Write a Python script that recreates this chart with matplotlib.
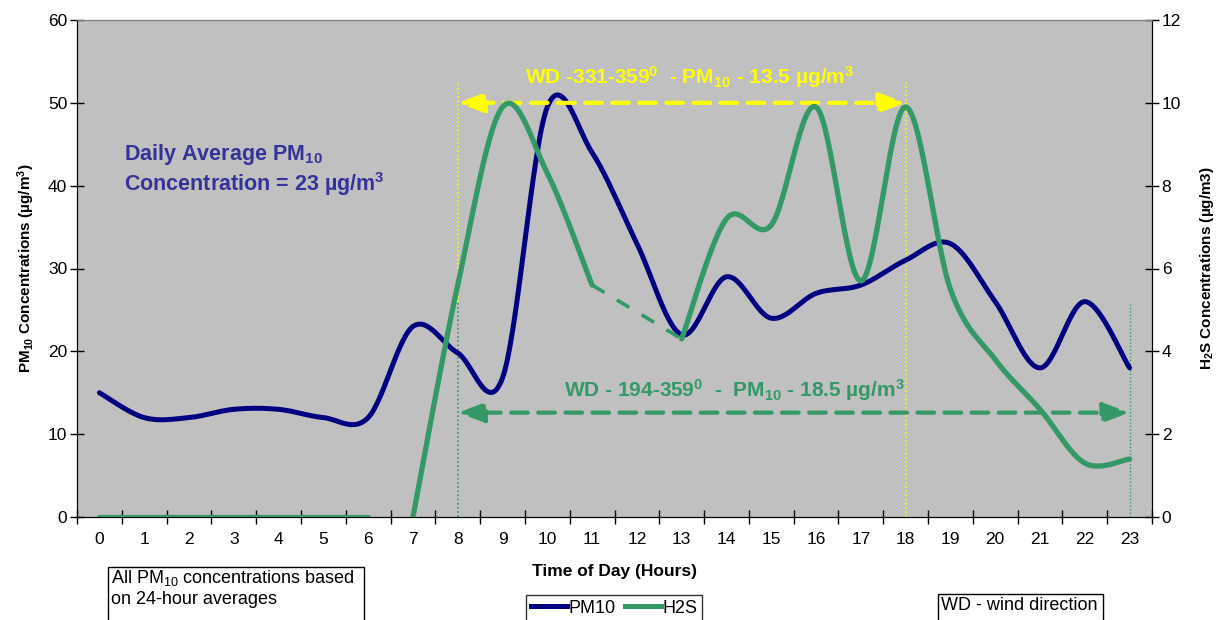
import numpy as np
import matplotlib
matplotlib.use('Agg')
import matplotlib.pyplot as plt
from matplotlib.lines import Line2D
from matplotlib.patches import Rectangle

plt.rcParams['font.family'] = ['Liberation Sans', 'DejaVu Sans']
plt.rcParams['mathtext.fontset'] = 'custom'
plt.rcParams['mathtext.rm'] = 'Liberation Sans'
plt.rcParams['mathtext.bf'] = 'Liberation Sans:bold'
plt.rcParams['mathtext.it'] = 'Liberation Sans:italic'

hours = list(range(24))
pm10 = [15, 12, 12, 13, 13, 12, 12, 23, 19.8, 16.8, 49.5, 44, 33, 22, 29, 24,
        27, 28, 31, 33, 26, 18, 26, 18]
# H2S is drawn in pieces: no reading between 6 and 7, hour 12 missing
h2s_hours_a = [0, 1, 2, 3, 4, 5, 6]
h2s_a = [0, 0, 0, 0, 0, 0, 0]
h2s_hours_b = [7, 8, 9, 10, 11]
h2s_b = [0, 5.6, 9.9, 8.3, 5.6]
h2s_hours_gap = [11, 13]
h2s_gap = [5.6, 4.3]
h2s_hours_c = [13, 14, 15, 16, 17, 18, 19, 20, 21, 22, 23]
h2s_c = [4.3, 7.2, 7.05, 9.9, 5.7, 9.9, 5.5, 3.8, 2.6, 1.3, 1.4]

NAVY = '#000080'
GREEN = '#339966'
YELLOW = '#FFFF00'
TXTBLUE = '#333399'


def smooth(xs, ys, n=30):
    # Excel-style smoothed line (bezier with 1/6 tangents)
    p = np.column_stack([xs, ys]).astype(float)
    if len(p) < 3:
        return p[:, 0], p[:, 1]
    pts = np.vstack([p[0], p, p[-1]])
    out = []
    t = np.linspace(0, 1, n)[:, None]
    for i in range(1, len(pts) - 2):
        p0, p1, p2, p3 = pts[i - 1], pts[i], pts[i + 1], pts[i + 2]
        c1 = p1 + (p2 - p0) / 6
        c2 = p2 - (p3 - p1) / 6
        seg = ((1 - t) ** 3) * p1 + 3 * ((1 - t) ** 2) * t * c1 + 3 * (1 - t) * t ** 2 * c2 + t ** 3 * p2
        out.append(seg if i == 1 else seg[1:])
    out = np.vstack(out)
    return out[:, 0], out[:, 1]


fig = plt.figure(figsize=(12.17, 6.2), dpi=100)
ax = fig.add_axes([77 / 1217, 1 - 517 / 620, (1152 - 77) / 1217, (517 - 20) / 620])
ax.set_facecolor('#C0C0C0')
ax2 = ax.twinx()

x, y = smooth(hours, pm10)
ax.plot(x, y, color=NAVY, lw=3.6, solid_capstyle='round', zorder=3)

for hx, hy in [(h2s_hours_a, h2s_a), (h2s_hours_b, h2s_b), (h2s_hours_c, h2s_c)]:
    x, y = smooth(hx, hy)
    ax2.plot(x, y, color=GREEN, lw=3.8, solid_capstyle='round', zorder=3)
ax2.plot(h2s_hours_gap, h2s_gap, color=GREEN, lw=2.6, ls=(0, (4, 4)), zorder=3)

ax.set_xlim(-0.5, 23.5)
ax.set_ylim(0, 60)
ax2.set_ylim(0, 12)
ax.set_yticks(range(0, 61, 10))
ax2.set_yticks(range(0, 13, 2))
ax.set_xticks(np.arange(-0.5, 24, 1))
ax.set_xticklabels([])
ax.set_xticks(hours, minor=True)
ax.set_xticklabels([str(h) for h in hours], minor=True)
ax.tick_params(axis='x', which='major', direction='inout', length=10, width=1)
ax.tick_params(axis='x', which='minor', length=0, pad=11, labelsize=12.5)
ax.tick_params(axis='y', direction='inout', length=10, width=1, labelsize=12.5, pad=2)
ax2.tick_params(axis='y', direction='inout', length=10, width=1, labelsize=12.5, pad=2)

for a in (ax, ax2):
    a.spines['top'].set_color('#808080')
    a.spines['left'].set_color('black')
    a.spines['right'].set_color('black')
    a.spines['bottom'].set_color('black')

ax.set_xlabel('Time of Day (Hours)', fontsize=12.5, fontweight='bold', labelpad=12)
ax.set_ylabel(r'PM$_{\mathbf{10}}$ Concentrations (µg/m$^{\mathbf{3}}$)', fontsize=11,
              fontweight='bold', labelpad=8)
ax2.set_ylabel(r'H$_{\mathbf{2}}$S Concentrations (µg/m3)', fontsize=11,
               fontweight='bold', labelpad=12)

# wind direction arrows and guide lines
ax.vlines(8, 26, 52.5, colors=YELLOW, lw=1.2, ls=(0, (1, 1.5)), zorder=2)
ax.vlines(18, 0, 52.5, colors=YELLOW, lw=1.2, ls=(0, (1, 1.5)), zorder=2)
ax.vlines(8, 0, 26, colors=GREEN, lw=1.2, ls=(0, (1, 1.5)), zorder=2)
ax.vlines(23, 0, 25.8, colors=GREEN, lw=1.0, ls=(0, (1, 1.5)), zorder=2)

ax.annotate('', xy=(8, 50), xytext=(18, 50),
            arrowprops=dict(arrowstyle='<|-|>,head_length=1.6,head_width=0.6', color=YELLOW,
                            lw=3, ls=(0, (4, 2.5)), shrinkA=0, shrinkB=0), zorder=4)
ax.annotate('', xy=(8, 12.6), xytext=(23, 12.6),
            arrowprops=dict(arrowstyle='<|-|>,head_length=1.6,head_width=0.6', color=GREEN,
                            lw=3, ls=(0, (4, 2.5)), shrinkA=0, shrinkB=0), zorder=4)

ax.text(13.18, 53.1, r'WD -331-359$^{\mathbf{0}}$  - PM$_{\mathbf{10}}$ - 13.5 µg/m$^{\mathbf{3}}$',
        color=YELLOW, fontsize=15, fontweight='bold', ha='center', va='center', zorder=5)
ax.text(14.17, 15.3, r'WD - 194-359$^{\mathbf{0}}$  -  PM$_{\mathbf{10}}$ - 18.5 µg/m$^{\mathbf{3}}$',
        color=GREEN, fontsize=15, fontweight='bold', ha='center', va='center', zorder=5)
ax.text(0.55, 43.8, r'Daily Average PM$_{\mathbf{10}}$', color=TXTBLUE, fontsize=15.5,
        fontweight='bold', ha='left', va='center')
ax.text(0.55, 40.2, r'Concentration = 23 µg/m$^{\mathbf{3}}$', color=TXTBLUE, fontsize=15.5,
        fontweight='bold', ha='left', va='center')

# legend
handles = [Line2D([], [], color=NAVY, lw=3.6), Line2D([], [], color=GREEN, lw=3.6)]
fig.legend(handles, ['PM10', 'H2S'], loc='upper center', bbox_to_anchor=(614 / 1217, 1 - 595 / 620),
           ncol=2, frameon=True, fancybox=False, edgecolor='black', fontsize=13,
           borderaxespad=0, handlelength=2.0, handletextpad=0.1, columnspacing=0.5,
           borderpad=0.25)

# note boxes
fig.patches.append(Rectangle((108 / 1217, -0.05), (364 - 108) / 1217, 0.05 + 1 - 567 / 620,
                             transform=fig.transFigure, fill=False, edgecolor='black', lw=1))
fig.text(111 / 1217, 1 - 578 / 620, r'All PM$_{10}$ concentrations based', fontsize=13, va='center')
fig.text(111 / 1217, 1 - 599 / 620, 'on 24-hour averages', fontsize=13, va='center')
fig.patches.append(Rectangle((938 / 1217, -0.05), (1103 - 938) / 1217, 0.05 + 1 - 594 / 620,
                             transform=fig.transFigure, fill=False, edgecolor='black', lw=1))
fig.text(941 / 1217, 1 - 606 / 620, 'WD - wind direction', fontsize=13, va='center')

fig.savefig('out.png', dpi=100)
